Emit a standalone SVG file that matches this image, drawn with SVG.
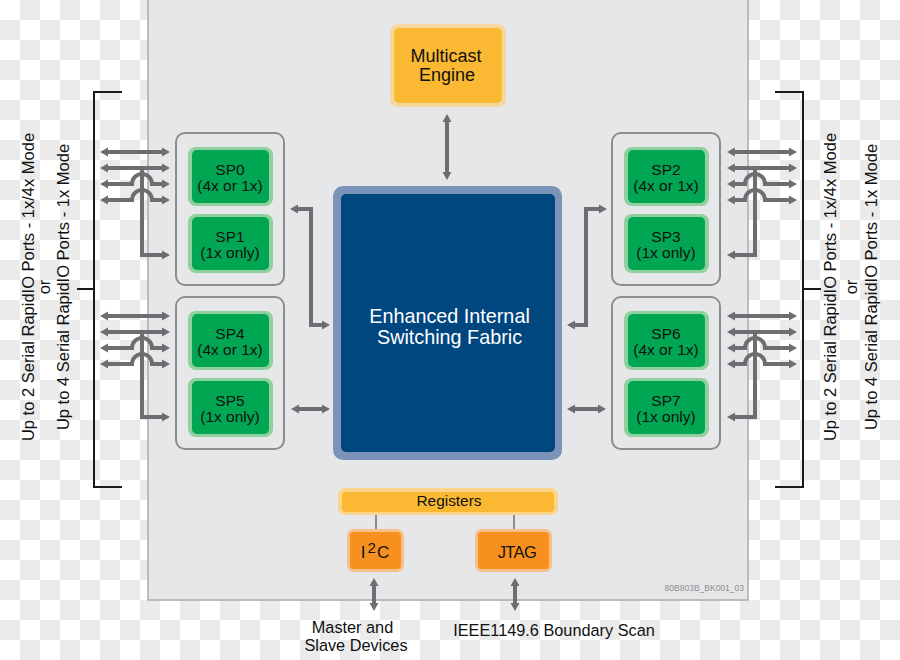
<svg xmlns="http://www.w3.org/2000/svg" width="900" height="660" viewBox="0 0 900 660">
<defs>
<pattern id="checker" x="0" y="0" width="40" height="40" patternUnits="userSpaceOnUse">
<rect width="40" height="40" fill="#ffffff"/>
<rect x="20" y="0" width="20" height="20" fill="#ebebeb"/>
<rect x="0" y="20" width="20" height="20" fill="#ebebeb"/>
</pattern>
<marker id="ah" viewBox="0 -5 8 10" refX="2" refY="0" markerWidth="8" markerHeight="10" markerUnits="userSpaceOnUse" orient="auto-start-reverse">
<path d="M0,-4.5 L8,0 L0,4.5 Z" fill="#6d6e71"/>
</marker>
</defs>
<style>
text{font-family:"Liberation Sans",Arial,sans-serif;fill:#111}
.grp{fill:#e6e7e8;stroke:#8c8d8f;stroke-width:2}
.spo{fill:#8fd09e}
.spi{fill:#00a651}
.sp{font-size:15.5px;text-anchor:middle}
.arr{fill:none;stroke:#6d6e71;stroke-width:4;marker-start:url(#ah);marker-end:url(#ah)}
.arr1{fill:none;stroke:#6d6e71;stroke-width:4;marker-end:url(#ah)}
.brk{fill:none;stroke:#1a1a1a;stroke-width:2}
.side{font-size:16.5px;text-anchor:middle}
.thin{stroke:#8c8d8f;stroke-width:2}
</style>
<rect width="900" height="660" fill="url(#checker)"/>
<g id="chip">
<rect x="148" y="-2" width="600" height="602" fill="#e6e7e8" stroke="#a9abae" stroke-width="1.5"/>
<text x="744" y="591" font-size="8.5" text-anchor="end" style="fill:#8c8d8f">80B803B_BK001_03</text>
</g>
<g id="multicast">
<rect x="390" y="24" width="116" height="83" rx="8" fill="#f6d79d"/>
<rect x="394" y="28" width="108" height="75" rx="5" fill="#fbb933"/>
<text x="446" y="62" font-size="18" text-anchor="middle">Multicast</text>
<text x="447" y="81" font-size="18" text-anchor="middle">Engine</text>
</g>
<g id="fabric">
<rect x="333" y="186" width="229" height="274" rx="10" fill="#7b93b9"/>
<rect x="341" y="194" width="214" height="258" rx="5" fill="#00467f"/>
<text x="449.5" y="323" font-size="19.8" text-anchor="middle" style="fill:#ffffff">Enhanced Internal</text>
<text x="449.5" y="344" font-size="19.8" text-anchor="middle" style="fill:#ffffff">Switching Fabric</text>
</g>
<g id="group-sp01">
<rect class="grp" x="176" y="133" width="108" height="152" rx="9"/>
</g>
<g id="sp0">
<rect class="spo" x="188" y="147" width="85" height="59" rx="8"/>
<rect class="spi" x="192" y="150" width="77" height="53" rx="5"/>
<text class="sp" x="230" y="175">SP0</text>
<text class="sp" x="230" y="191">(4x or 1x)</text>
</g>
<g id="sp1">
<rect class="spo" x="188" y="214" width="85" height="59" rx="8"/>
<rect class="spi" x="192" y="217" width="77" height="53" rx="5"/>
<text class="sp" x="230" y="241.5">SP1</text>
<text class="sp" x="230" y="257.5">(1x only)</text>
</g>
<g id="group-sp45">
<rect class="grp" x="176" y="297" width="108" height="152" rx="9"/>
</g>
<g id="sp4">
<rect class="spo" x="188" y="311" width="85" height="59" rx="8"/>
<rect class="spi" x="192" y="314" width="77" height="53" rx="5"/>
<text class="sp" x="230" y="339">SP4</text>
<text class="sp" x="230" y="355">(4x or 1x)</text>
</g>
<g id="sp5">
<rect class="spo" x="188" y="378" width="85" height="59" rx="8"/>
<rect class="spi" x="192" y="381" width="77" height="53" rx="5"/>
<text class="sp" x="230" y="405.5">SP5</text>
<text class="sp" x="230" y="421.5">(1x only)</text>
</g>
<g id="group-sp23">
<rect class="grp" x="612" y="133" width="108" height="152" rx="9"/>
</g>
<g id="sp2">
<rect class="spo" x="624" y="147" width="85" height="59" rx="8"/>
<rect class="spi" x="628" y="150" width="77" height="53" rx="5"/>
<text class="sp" x="666" y="175">SP2</text>
<text class="sp" x="666" y="191">(4x or 1x)</text>
</g>
<g id="sp3">
<rect class="spo" x="624" y="214" width="85" height="59" rx="8"/>
<rect class="spi" x="628" y="217" width="77" height="53" rx="5"/>
<text class="sp" x="666" y="241.5">SP3</text>
<text class="sp" x="666" y="257.5">(1x only)</text>
</g>
<g id="group-sp67">
<rect class="grp" x="612" y="297" width="108" height="152" rx="9"/>
</g>
<g id="sp6">
<rect class="spo" x="624" y="311" width="85" height="59" rx="8"/>
<rect class="spi" x="628" y="314" width="77" height="53" rx="5"/>
<text class="sp" x="666" y="339">SP6</text>
<text class="sp" x="666" y="355">(4x or 1x)</text>
</g>
<g id="sp7">
<rect class="spo" x="624" y="378" width="85" height="59" rx="8"/>
<rect class="spi" x="628" y="381" width="77" height="53" rx="5"/>
<text class="sp" x="666" y="405.5">SP7</text>
<text class="sp" x="666" y="421.5">(1x only)</text>
</g>
<g id="registers">
<rect x="338" y="488" width="220" height="27" rx="7" fill="#fcd48c"/>
<rect x="342" y="492" width="212" height="20" rx="4" fill="#fbb933"/>
<text x="449" y="506" font-size="15.4" text-anchor="middle">Registers</text>
</g>
<g id="i2c">
<rect x="347" y="529" width="57" height="43" rx="7" fill="#f5c08c"/>
<rect x="350" y="532" width="51" height="37" rx="4" fill="#f7901e"/>
<text x="375" y="558" font-size="17" text-anchor="middle">I<tspan dx="2" dy="-5" font-size="15">2</tspan><tspan dx="1" dy="5">C</tspan></text>
</g>
<g id="jtag">
<rect x="475" y="529" width="77" height="43" rx="7" fill="#f5c08c"/>
<rect x="478" y="532" width="71" height="37" rx="4" fill="#f7901e"/>
<text x="517" y="558" font-size="16.5" text-anchor="middle" letter-spacing="-0.6">JTAG</text>
</g>
<g id="labels">
<text class="side" transform="translate(33.5,287) rotate(-90)">Up to 2 Serial RapidIO Ports - 1x/4x Mode</text>
<text class="side" transform="translate(50,287) rotate(-90)">or</text>
<text class="side" transform="translate(69,287) rotate(-90)">Up to 4 Serial RapidIO Ports - 1x Mode</text>
<text class="side" transform="translate(836,287) rotate(-90)">Up to 2 Serial RapidIO Ports - 1x/4x Mode</text>
<text class="side" transform="translate(857,287) rotate(-90)">or</text>
<text class="side" transform="translate(877,287) rotate(-90)">Up to 4 Serial RapidIO Ports - 1x Mode</text>
<text x="352.5" y="633" font-size="16.3" text-anchor="middle">Master and</text>
<text x="356" y="651" font-size="16.3" text-anchor="middle">Slave Devices</text>
<text x="554" y="636" font-size="16.3" text-anchor="middle">IEEE1149.6 Boundary Scan</text>
</g>
<g id="connectors">
<path class="arr" d="M447,120 V174"/>
<path class="arr" d="M374,584 V605"/>
<path class="arr" d="M515,584 V605"/>
<line class="thin" x1="376" y1="515" x2="376" y2="529"/>
<line class="thin" x1="514" y1="515" x2="514" y2="529"/>
<g id="left-conn">
<path class="arr" d="M296,209 H311 V325 H324"/>
<path class="arr" d="M297,409 H324"/>
<path class="arr" d="M106,152 H164"/>
<path class="arr" d="M106,168 H164"/>
<path class="arr" d="M106,184 H132 A10,10 0 0 1 152,184 H164"/>
<path class="arr" d="M106,200 H132 A10,10 0 0 1 152,200 H164"/>
<path class="arr1" d="M142,168 V255 H164"/>
<path class="arr" d="M106,316 H164"/>
<path class="arr" d="M106,332 H164"/>
<path class="arr" d="M106,348 H132 A10,10 0 0 1 152,348 H164"/>
<path class="arr" d="M106,364 H132 A10,10 0 0 1 152,364 H164"/>
<path class="arr1" d="M142,332 V417 H164"/>
</g>
<g id="right-conn" transform="translate(897,0) scale(-1,1)">
<path class="arr" d="M296,209 H311 V325 H324"/>
<path class="arr" d="M297,409 H324"/>
<path class="arr" d="M106,152 H164"/>
<path class="arr" d="M106,168 H164"/>
<path class="arr" d="M106,184 H132 A10,10 0 0 1 152,184 H164"/>
<path class="arr" d="M106,200 H132 A10,10 0 0 1 152,200 H164"/>
<path class="arr1" d="M142,168 V255 H164"/>
<path class="arr" d="M106,316 H164"/>
<path class="arr" d="M106,332 H164"/>
<path class="arr" d="M106,348 H132 A10,10 0 0 1 152,348 H164"/>
<path class="arr" d="M106,364 H132 A10,10 0 0 1 152,364 H164"/>
<path class="arr1" d="M142,332 V417 H164"/>
</g>
<path class="brk" d="M122,92 H94 V487 H122 M94,289 H77"/>
<path class="brk" d="M775,92 H803 V487 H775 M803,289 H821"/>
</g>
</svg>
